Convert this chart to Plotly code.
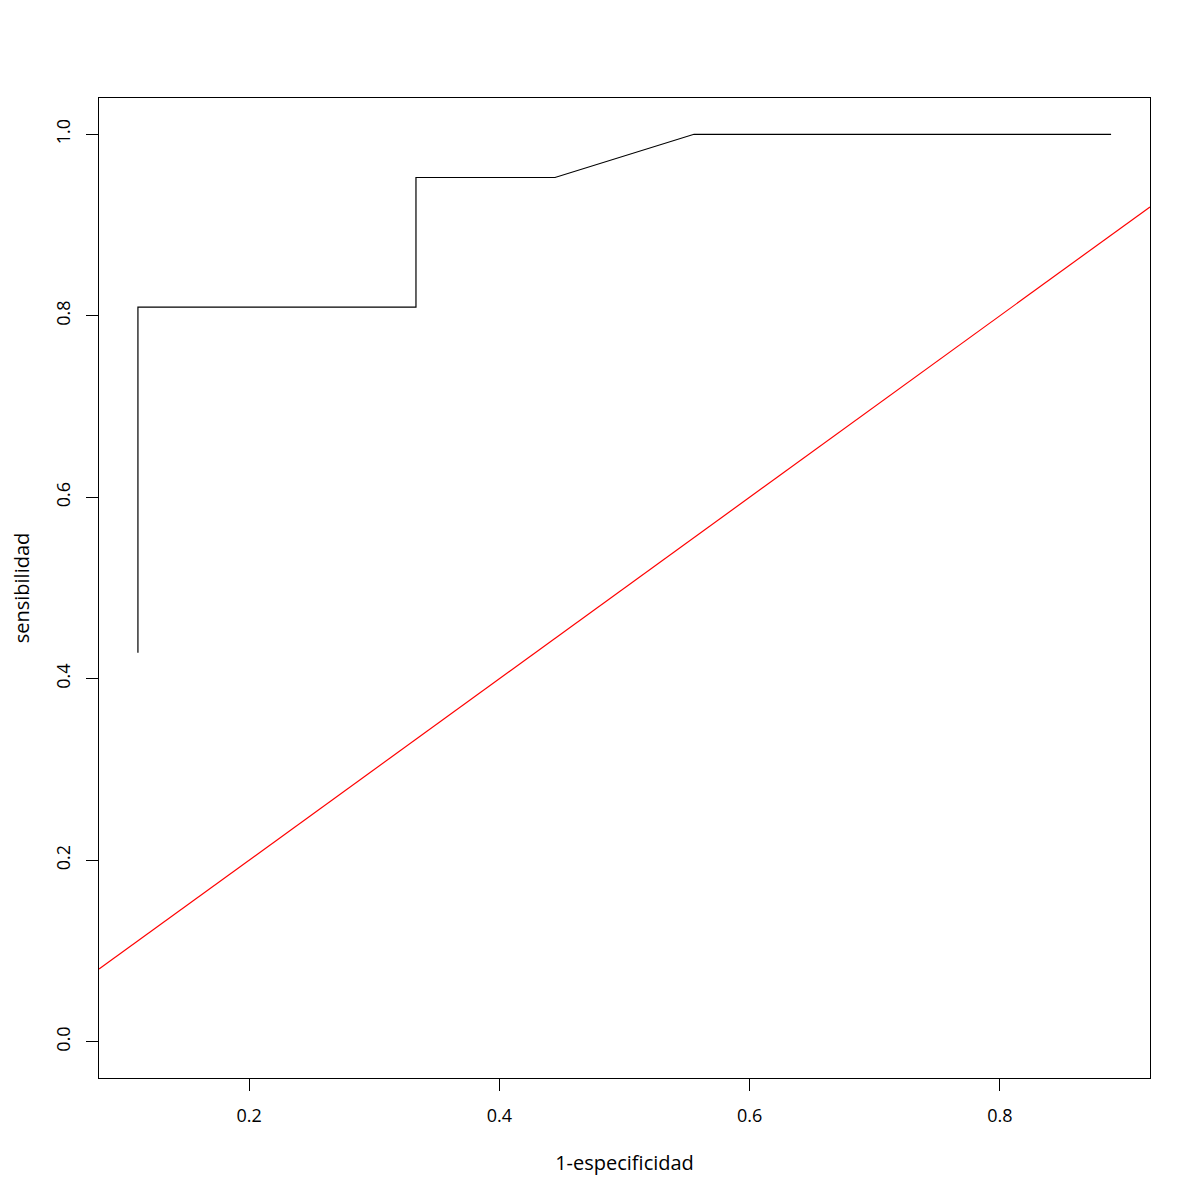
import plotly.graph_objects as go

# ROC curve data (1-especificidad, sensibilidad)
fpr = [1/9, 1/9, 3/9, 3/9, 4/9, 5/9, 8/9]
tpr = [9/21, 17/21, 17/21, 20/21, 20/21, 1.0, 1.0]
x_ticks = [0.2, 0.4, 0.6, 0.8]
y_ticks = [0.0, 0.2, 0.4, 0.6, 0.8, 1.0]
x_label = "1-especificidad"
y_label = "sensibilidad"

xmin, xmax = min(fpr), max(fpr)
pad = (xmax - xmin) * 0.04
xr = [xmin - pad, xmax + pad]
yr = [0 - 0.04, 1 + 0.04]

fig = go.Figure()
fig.add_trace(go.Scatter(x=fpr, y=tpr, mode="lines",
                         line=dict(color="black", width=1.2), showlegend=False))
# abline(0,1)
fig.add_trace(go.Scatter(x=xr, y=xr, mode="lines",
                         line=dict(color="red", width=1.2), showlegend=False))

font = dict(family="Open Sans", size=16.7, color="black")
fig.update_layout(
    width=1200, height=1200,
    margin=dict(l=91, r=58, t=90, b=130),
    plot_bgcolor="white", paper_bgcolor="white",
    font=font,
    xaxis=dict(range=xr, tickvals=x_ticks, ticktext=[f"{v:.1f}" for v in x_ticks],
               showgrid=False, zeroline=False, showline=True, mirror=True,
               linecolor="black", linewidth=1, ticks="outside", ticklen=12,
               tickcolor="black", tickwidth=1, ticklabelstandoff=9,
               automargin=False, tickfont=dict(size=18),
               title=dict(text=x_label, standoff=30)),
    yaxis=dict(range=yr, tickvals=y_ticks, ticktext=[f"{v:.1f}" for v in y_ticks],
               showgrid=False, zeroline=False, showline=True, mirror=True,
               linecolor="black", linewidth=1, ticks="outside", ticklen=12,
               tickcolor="black", tickwidth=1, tickangle=-90, ticklabelstandoff=9,
               automargin=False, tickfont=dict(size=18),
               title=dict(text=y_label, standoff=26)),
)
fig.write_html("out.html")
